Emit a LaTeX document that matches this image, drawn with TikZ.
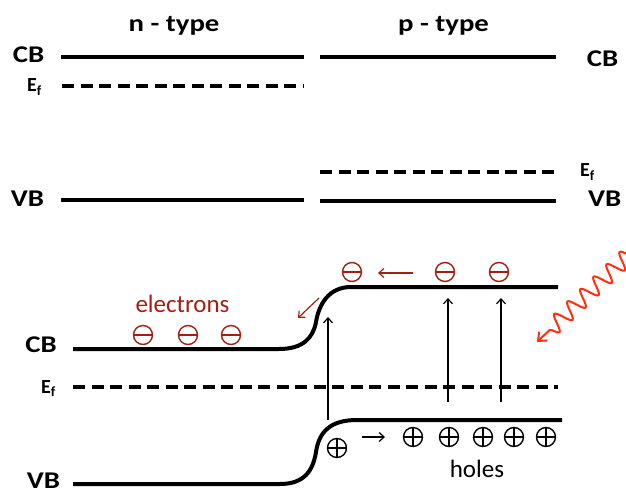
\documentclass[tikz,border=0pt]{standalone}
\usepackage{fontspec}
\setmainfont{Carlito}
\usetikzlibrary{arrows.meta,decorations.pathmorphing}
\definecolor{dred}{RGB}{160,32,22}
\definecolor{wred}{RGB}{255,48,18}
\newcommand\stretchlbl[1]{\scalebox{1.2}[1]{#1}}
\begin{document}
\begin{tikzpicture}[x=1pt,y=-1pt,
  band/.style={line width=4pt},
  fermi/.style={line width=3.5pt, dash pattern=on 12pt off 6.5pt},
  lbl/.style={font=\fontsize{24}{28}\selectfont\bfseries, inner sep=0, anchor=base},
  eflbl/.style={font=\fontsize{20}{24}\selectfont\bfseries, inner sep=0, anchor=base west},
  note/.style={font=\fontsize{25}{30}\selectfont, inner sep=0, anchor=base},
  elec/.style={circle, draw=dred, line width=1.4pt, minimum size=19pt, inner sep=0,
    path picture={\draw[dred, line width=1.4pt] (path picture bounding box.west) -- (path picture bounding box.east);}},
  hole/.style={circle, draw=black, line width=1.4pt, minimum size=19pt, inner sep=0,
    path picture={\draw[black, line width=1.4pt] (path picture bounding box.west) -- (path picture bounding box.east)
      (path picture bounding box.north) -- (path picture bounding box.south);}},
  thinarr/.style={line width=1.2pt, -{Straight Barb[length=5pt,width=9pt]}},
  redarr/.style={dred, line width=1.2pt, -{Straight Barb[length=5pt,width=9pt]}}
]
\useasboundingbox (0,0) rectangle (626,494);

% ---------- top: separate materials ----------
\node[lbl] (tn) at (174,32) {\stretchlbl{n - type}};
\node[lbl] (tp) at (443.5,32) {\stretchlbl{p - type}};
\node[lbl] (cbL) at (28.5,63) {\stretchlbl{CB}};
\node[eflbl] (efL) at (27,92) {E\textsubscript{f}};
\node[lbl] (vbL) at (27.5,207) {\stretchlbl{VB}};
\node[lbl] (cbR) at (602.5,67) {\stretchlbl{CB}};
\node[eflbl] (efR) at (580,177) {E\textsubscript{f}};
\node[lbl, anchor=base west] (vbR) at (588,207) {\stretchlbl{VB}};

\coordinate (nCBa) at (61,57);  \coordinate (nCBb) at (304,57);
\coordinate (nEFa) at (62,86);  \coordinate (nEFb) at (304,86);
\coordinate (nVBa) at (61,200); \coordinate (nVBb) at (304,200);
\coordinate (pCBa) at (320,57); \coordinate (pCBb) at (556,57);
\coordinate (pEFa) at (320,172);\coordinate (pEFb) at (556,172);
\coordinate (pVBa) at (320,201);\coordinate (pVBb) at (556,201);

\draw[band] (nCBa) -- (nCBb);
\draw[fermi] (nEFa) -- (nEFb);
\draw[band] (nVBa) -- (nVBb);
\draw[band] (pCBa) -- (pCBb);
\draw[fermi] (pEFa) -- (pEFb);
\draw[band] (pVBa) -- (pVBb);

% ---------- bottom: junction ----------
\node[lbl] (cbB) at (41,352) {\stretchlbl{CB}};
\node[eflbl] (efB) at (41,393) {E\textsubscript{f}};
\node[lbl] (vbB) at (43.5,488) {\stretchlbl{VB}};

\coordinate (bCBa) at (73,349);  \coordinate (bCBk) at (279,349);
\coordinate (bCBm) at (316,322); \coordinate (bCBp) at (351,287);
\coordinate (bCBb) at (558,287);
\coordinate (bEFa) at (73,387);  \coordinate (bEFb) at (558,387);
\coordinate (bVBa) at (73,484);  \coordinate (bVBk) at (280,484);
\coordinate (bVBm) at (316,452); \coordinate (bVBp) at (357,420);
\coordinate (bVBb) at (562,420);

\draw[band] (bCBa) -- (bCBk) .. controls (303,349) and (313,338) .. (bCBm)
  .. controls (319,304) and (329,287) .. (bCBp) -- (bCBb);
\draw[fermi] (bEFa) -- (bEFb);
\draw[band] (bVBa) -- (bVBk) .. controls (305,484) and (313,470) .. (bVBm)
  .. controls (319,432) and (330,420) .. (bVBp) -- (bVBb);

% electrons
\node[note, text=dred] (elab) at (182.5,312) {electrons};
\node[elec] (e1) at (143,335) {};
\node[elec] (e2) at (188,335) {};
\node[elec] (e3) at (231,335) {};
\node[elec] (e4) at (352,272) {};
\node[elec] (e5) at (445,272) {};
\node[elec] (e6) at (499,272) {};

% holes
\node[hole] (h0) at (337,448) {};
\node[hole] (h1) at (413,437) {};
\node[hole] (h2) at (449,437) {};
\node[hole] (h3) at (483,437) {};
\node[hole] (h4) at (514,437) {};
\node[hole] (h5) at (546,437) {};
\node[note] (hlab) at (477,477) {holes};

% arrows
\coordinate (ra1) at (413,273); \coordinate (ra2) at (378,273);
\coordinate (rd1) at (319,298); \coordinate (rd2) at (298,318);
\coordinate (v1a) at (328,420); \coordinate (v1b) at (328,317);
\coordinate (v2a) at (448,402); \coordinate (v2b) at (448,298);
\coordinate (v3a) at (501,402); \coordinate (v3b) at (501,298);
\coordinate (ha1) at (362,437); \coordinate (ha2) at (385,437);
\draw[redarr] (ra1) -- (ra2);
\draw[redarr] (rd1) -- (rd2);
\draw[thinarr] (v1a) -- (v1b);
\draw[thinarr] (v2a) -- (v2b);
\draw[thinarr] (v3a) -- (v3b);
\draw[thinarr] (ha1) -- (ha2);

% photon
\coordinate (w1) at (636,248); \coordinate (w2) at (537,342);
\draw[wred, line width=2pt, -{Straight Barb[length=7pt,width=12pt]},
  decorate, decoration={snake, amplitude=8.5pt, segment length=18pt, post length=9pt}] (w1) -- (w2);
\end{tikzpicture}
\end{document}
